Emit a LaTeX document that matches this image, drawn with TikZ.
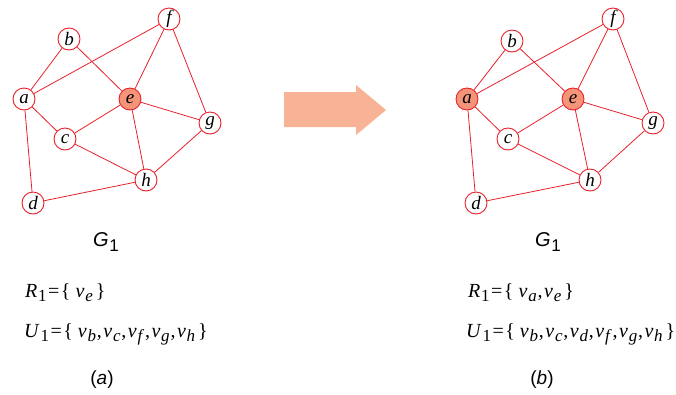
\documentclass[tikz,border=0pt]{standalone}
\usepackage{fontspec}
\setmainfont{Liberation Serif}
\setsansfont{Liberation Sans}
\definecolor{edgered}{HTML}{E8202A}
\definecolor{nodefill}{HTML}{F4957A}
\definecolor{arrowfill}{HTML}{F8B396}
\newcommand{\sbs}[1]{\kern0.8pt\raisebox{-4.5pt}{\fontsize{17}{17}\selectfont #1}}
\newcommand{\vx}[1]{\textit{v}\sbs{\textit{#1}}}
\newcommand{\cm}{\kern0.8pt,\kern1.5pt}
\newcommand{\eqb}{\kern1.5pt=\kern1.5pt\{\kern5pt}
\newcommand{\clb}{\kern3pt\}}
\begin{document}
\begin{tikzpicture}[x=1pt,y=-1pt,
  vtx/.style={circle,draw=edgered,line width=0.9pt,fill=white,minimum size=22pt,inner sep=0pt,font=\fontsize{19}{19}\selectfont\itshape},
  hot/.style={vtx,fill=nodefill},
  edge/.style={draw=edgered,line width=0.8pt},
  gname/.style={anchor=base,inner sep=0pt,font=\fontsize{20}{20}\sffamily},
  settext/.style={anchor=base west,font=\fontsize{20}{20}\selectfont,inner sep=0pt},
  captext/.style={anchor=base,inner sep=0pt,font=\fontsize{19}{19}\sffamily}]
\useasboundingbox (0,0) rectangle (676,394);
% left graph
\node[vtx] (a1) at (24,99) {a};
\node[vtx] (b1) at (69,39) {b};
\node[vtx] (f1) at (169,19) {f};
\node[hot] (e1) at (130,99) {e};
\node[vtx] (g1) at (210,123) {g};
\node[vtx] (c1) at (65,139) {c};
\node[vtx] (h1) at (146,180) {h};
\node[vtx] (d1) at (33,203) {d};
\foreach \u/\v in {a/b,a/f,a/c,a/d,b/e,f/e,f/g,e/c,e/g,e/h,c/h,g/h,h/d}{
  \draw[edge] (\u1) -- (\v1);
}
% right graph
\node[hot] (a2) at (467,99) {a};
\node[vtx] (b2) at (512,41) {b};
\node[vtx] (f2) at (613,19) {f};
\node[hot] (e2) at (573,99) {e};
\node[vtx] (g2) at (653,123) {g};
\node[vtx] (c2) at (508,139) {c};
\node[vtx] (h2) at (590,180) {h};
\node[vtx] (d2) at (476,203) {d};
\foreach \u/\v in {a/b,a/f,a/c,a/d,b/e,f/e,f/g,e/c,e/g,e/h,c/h,g/h,h/d}{
  \draw[edge] (\u2) -- (\v2);
}
% arrow
\fill[arrowfill] (284,92) -- (356,92) -- (356,85) -- (386,110) -- (356,135) -- (356,127) -- (284,127) -- cycle;
% labels left
\node[gname] (G1) at (106,246.5) {\textit{G}\sbs{1}};
\node[settext] (R1) at (25,297) {\textit{R}\sbs{1}\eqb\vx{e}\clb};
\node[settext] (U1) at (24,337) {\textit{U}\sbs{1}\eqb\vx{b}\cm\vx{c}\cm\vx{f}\cm\vx{g}\cm\vx{h}\clb};
\node[captext] (ca) at (102,384) {(\textit{a})};
% labels right
\node[gname] (G2) at (548,246.5) {\textit{G}\sbs{1}};
\node[settext] (R2) at (468,297) {\textit{R}\sbs{1}\eqb\vx{a}\cm\vx{e}\clb};
\node[settext] (U2) at (466,337) {\textit{U}\sbs{1}\eqb\vx{b}\cm\vx{c}\cm\vx{d}\cm\vx{f}\cm\vx{g}\cm\vx{h}\clb};
\node[captext] (cb) at (542,384) {(\textit{b})};
\end{tikzpicture}
\end{document}
